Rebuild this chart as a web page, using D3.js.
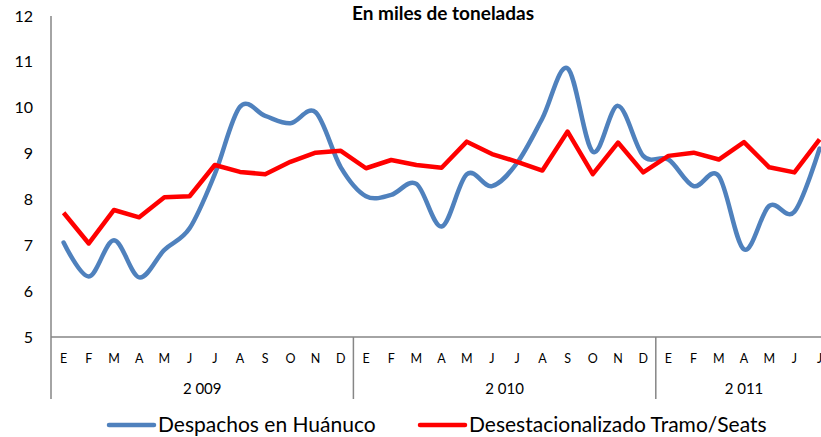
<!DOCTYPE html>
<html>
<head>
<meta charset="utf-8">
<script src="https://cdn.jsdelivr.net/npm/d3@7"></script>
<style>
  body { margin: 0; background: #fff; }
  text { font-family: "Lato", "Open Sans", sans-serif; fill: #000; }
</style>
</head>
<body>
<script>
// month letters, years and tick labels
let monthLetters = ["E", "F", "M", "A", "M", "J", "J", "A", "S", "O", "N", "D"];
let years = ["2 009", "2 010", "2 011"];
let yTicks = [5, 6, 7, 8, 9, 10, 11, 12];

// Despachos en Huánuco (miles de toneladas), ene 2009 - jul 2011
let despachos = [
    7.06, 6.32, 7.11, 6.30, 6.90, 7.37, 8.55, 10.02, 9.82, 9.66, 9.90, 8.70,
    8.07, 8.10, 8.34, 7.41, 8.55, 8.29, 8.80, 9.77, 10.86, 9.04, 10.04, 8.95,
    8.87, 8.29, 8.51, 6.91, 7.86, 7.73, 9.11
];
// Desestacionalizado Tramo/Seats
let desest = [
    7.71, 7.04, 7.77, 7.61, 8.05, 8.07, 8.75, 8.60, 8.55, 8.82, 9.02, 9.06,
    8.68, 8.86, 8.75, 8.69, 9.26, 8.99, 8.82, 8.63, 9.48, 8.55, 9.24, 8.59,
    8.95, 9.02, 8.87, 9.25, 8.70, 8.59, 9.31
];

let svg = d3.select("body").append("svg")
    .attr("width", 821)
    .attr("height", 437);

let idx = d3.range(despachos.length);

// plot goes a bit past the right edge (as in the original picture)
let x = d3.scaleBand()
    .domain(idx)
    .range([51, 51 + idx.length * 25.2]);

let y = d3.scaleLinear()
    .domain([5, 12])
    .range([337, 16]);

let axisColor = "#868686";

// title
svg.append("text")
    .attr("x", 443)
    .attr("y", 19.5)
    .attr("text-anchor", "middle")
    .style("font-weight", "bold")
    .style("font-size", "19px")
    .text("En miles de toneladas");

// y tick labels
yTicks.forEach(t =>
    svg.append("text")
        .attr("x", 33)
        .attr("y", y(t))
        .attr("dy", "0.35em")
        .attr("text-anchor", "end")
        .style("font-size", "16px")
        .text(t)
);

// axis lines
svg.append("line")
    .attr("x1", 51).attr("x2", 51)
    .attr("y1", y(12)).attr("y2", 399)
    .attr("stroke", axisColor).attr("stroke-width", 1.5);

svg.append("line")
    .attr("x1", 51).attr("x2", 821)
    .attr("y1", y(5)).attr("y2", y(5))
    .attr("stroke", axisColor).attr("stroke-width", 1.5);

// month letters
idx.forEach(i =>
    svg.append("text")
        .attr("x", x(i) + x.bandwidth() / 2)
        .attr("y", 363)
        .attr("text-anchor", "middle")
        .style("font-size", "12.5px")
        .text(monthLetters[i % 12])
);

// years + separators
years.forEach((yr, k) => {
    let n = Math.min(12, idx.length - k * 12);
    let x0 = x(k * 12);
    let x1 = x0 + n * x.bandwidth();
    svg.append("text")
        .attr("x", (x0 + x1) / 2)
        .attr("y", 394)
        .attr("text-anchor", "middle")
        .style("font-size", "15px")
        .text(yr);
    if (k > 0) {
        svg.append("line")
            .attr("x1", x0).attr("x2", x0)
            .attr("y1", y(5)).attr("y2", 399)
            .attr("stroke", axisColor).attr("stroke-width", 1.5);
    }
});

// series
let smooth = d3.line()
    .x(i => x(i) + x.bandwidth() / 2)
    .y(i => y(despachos[i]))
    .curve(d3.curveCardinal.tension(0));

let straight = d3.line()
    .x(i => x(i) + x.bandwidth() / 2)
    .y(i => y(desest[i]));

svg.append("path")
    .datum(idx)
    .attr("d", smooth)
    .attr("fill", "none")
    .attr("stroke", "#4F81BD")
    .attr("stroke-width", 4.5)
    .attr("stroke-linecap", "round");

svg.append("path")
    .datum(idx)
    .attr("d", straight)
    .attr("fill", "none")
    .attr("stroke", "#FF0000")
    .attr("stroke-width", 4.5)
    .attr("stroke-linejoin", "round");

// legend
let legend = [
    { name: "Despachos en Huánuco", color: "#4F81BD", x: 109 },
    { name: "Desestacionalizado Tramo/Seats", color: "#FF0000", x: 420 }
];

legend.forEach(l => {
    svg.append("line")
        .attr("x1", l.x).attr("x2", l.x + 45)
        .attr("y1", 425).attr("y2", 425)
        .attr("stroke", l.color)
        .attr("stroke-width", 4.5)
        .attr("stroke-linecap", "round");
    svg.append("text")
        .attr("x", l.x + 49)
        .attr("y", 432)
        .style("font-size", "21px")
        .text(l.name);
});
</script>
</body>
</html>
